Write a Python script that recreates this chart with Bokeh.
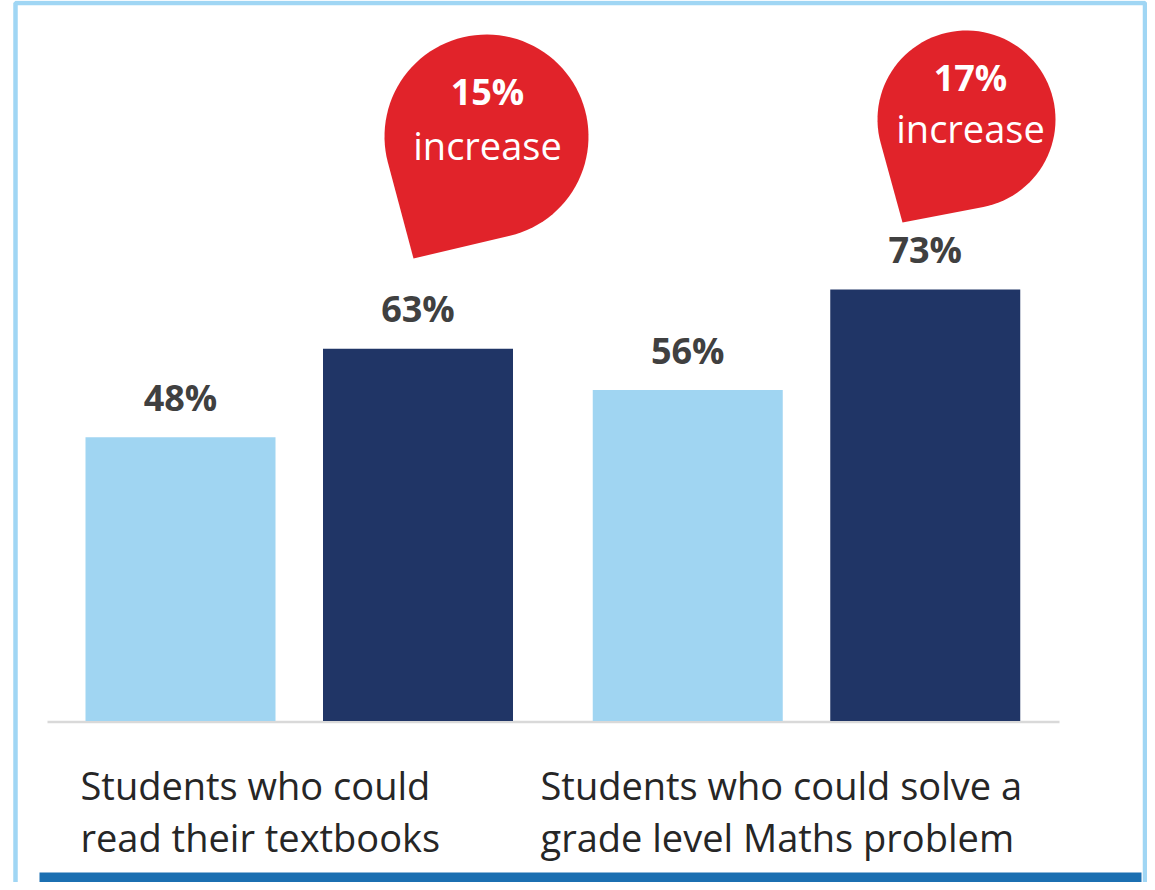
import math
from bokeh.plotting import figure
from bokeh.models import Range1d
from bokeh.core.properties import value
from bokeh.embed import file_html
from bokeh.resources import INLINE

# ---------------- data ----------------
categories = ["Students who could\nread their textbooks",
              "Students who could solve a\ngrade level Maths problem"]
series_names = ["Before", "After"]
before = [48, 56]
after = [63, 73]

# ---------------- layout (picture pixels) ----------------
W, H = 1147, 882
PAGE = 0
GROUP0_PX = 298.75
GROUP_STEP_PX = 507.25
BASE_PX = 720.5
PX_PER_PCT = 5.91
BAR_W_PX = 190
BAR_OFF_PX = 118.75
LABEL_GAP_PX = 40
CAT_LEFT_PX = [80, 540]
CAT_BASE_PX = [784, 836]
# bubbles: centre x, centre y, radius, tip x, tip y, pct baseline, word baseline, text x
BUBBLES = [(486, 136, 102, 413, 258, 91, 144, 487),
           (966, 119, 89, 902, 222, 77, 127, 970)]

LIGHT = "#A0D5F2"
DARK = "#203566"
RED = "#E1232A"
FRAME = "#A0D6F4"
STRIPE = "#1B6FB1"

x0 = -(GROUP0_PX - PAGE) / GROUP_STEP_PX
x1 = x0 + W / GROUP_STEP_PX
y1 = (BASE_PX - PAGE) / PX_PER_PCT
y0 = y1 - H / PX_PER_PCT


def dx(px):
    return x0 + (px - PAGE) / GROUP_STEP_PX


def dy(py):
    return (BASE_PX - py) / PX_PER_PCT


p = figure(width=W, height=H, x_range=Range1d(x0, x1), y_range=Range1d(y0, y1),
           output_backend="svg", toolbar_location=None, min_border=0,
           x_axis_location=None, y_axis_location=None,
           outline_line_color=None, background_fill_color="white",
           border_fill_color="white")
p.xgrid.visible = False
p.ygrid.visible = False

# frame
p.quad(left=[dx(15)], right=[dx(1144.5)], top=[dy(2.5)], bottom=[dy(887.5)],
       fill_alpha=0, line_color=FRAME, line_width=4.5)
# bottom stripe
p.quad(left=[dx(39)], right=[dx(1141)], top=[dy(872)], bottom=[dy(895)],
       fill_color=STRIPE, line_color=None)

# baseline axis line
p.segment(x0=[dx(47)], y0=[dy(721.5)], x1=[dx(1059)], y1=[dy(721.5)],
          line_color="#D9D9D9", line_width=2.5)

# bars
off = BAR_OFF_PX / GROUP_STEP_PX
bw = BAR_W_PX / GROUP_STEP_PX
idx = list(range(len(categories)))
xb = [i - off for i in idx]
xa = [i + off for i in idx]
p.vbar(x=xb, top=before, bottom=0, width=bw, fill_color=LIGHT, line_color=None)
p.vbar(x=xa, top=after, bottom=0, width=bw, fill_color=DARK, line_color=None)

# value labels
gap = LABEL_GAP_PX / PX_PER_PCT
p.text(x=xb + xa, y=[v + gap for v in before + after],
       text=[f"{v}%" for v in before + after],
       text_font=value("Open Sans"), text_font_size=value("36px"),
       text_font_style="bold", text_color="#404040",
       text_align="center", text_baseline="alphabetic")

# category labels
for i, cat in enumerate(categories):
    lines = cat.split("\n")
    p.text(x=[dx(CAT_LEFT_PX[i])] * len(lines),
           y=[dy(CAT_BASE_PX[k]) for k in range(len(lines))],
           text=lines, text_font=value("Open Sans"),
           text_font_size=value("38px"), text_color="#262626",
           text_align="left", text_baseline="alphabetic")

# increase bubbles
increase = [a - b for a, b in zip(after, before)]
for (cx, cy, r, tx, ty, pb, wb, txx), inc in zip(BUBBLES, increase):
    vx, vy = tx - cx, ty - cy
    d = math.hypot(vx, vy)
    phi = math.atan2(vy, vx)
    a = math.acos(r / d)
    t_left = phi + a
    pts = [(tx, ty)]
    n = 80
    span = 2 * math.pi - 2 * a
    for k in range(n + 1):
        t = t_left + span * k / n
        pts.append((cx + r * math.cos(t), cy + r * math.sin(t)))
    p.patch(x=[dx(q[0]) for q in pts], y=[dy(q[1]) for q in pts],
            fill_color=RED, line_color=None)
    p.text(x=[dx(txx)], y=[dy(pb)], text=[f"{inc}%"],
           text_font=value("Open Sans"), text_font_size=value("36px"),
           text_font_style="bold", text_color="white",
           text_align="center", text_baseline="alphabetic")
    p.text(x=[dx(txx)], y=[dy(wb)], text=["increase"],
           text_font=value("Open Sans"), text_font_size=value("38px"),
           text_color="white", text_align="center", text_baseline="alphabetic")

open("out.html", "w").write(file_html(p, INLINE))
